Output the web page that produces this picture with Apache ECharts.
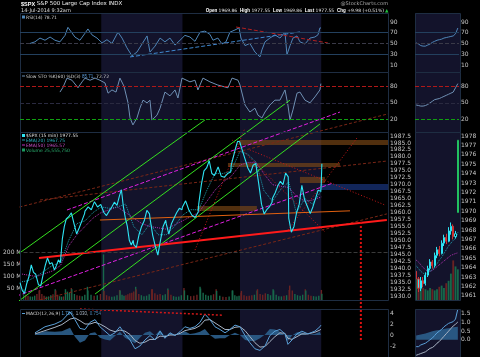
<!DOCTYPE html>
<html><head><meta charset="utf-8">
<script src="https://cdn.jsdelivr.net/npm/echarts@6.0.0/dist/echarts.min.js"></script>
<style>html,body{margin:0;padding:0;background:#000;overflow:hidden}#c{width:480px;height:357px}</style>
</head><body><div id="c"></div>
<script>
// ================= DATA =================
const dateTickLabels = ['17','18','19','20','23','24','25','26','27','30','Jul','2','3','7','8','9','10','11','14','15','16','17','18'];
const dateTickPos    = [1,2,3,4,5,6,7,8,9,10,11,12,13,13.54,14.54,15.54,16.54,17.54,18.54,19.54,20.54,21.54,22.54];
const weekShade = [[5,10],[13.54,18.54]];
// trading sessions (x in trading days from Jun 16)
const sessionStart = [0,1,2,3,4,5,6,7,8,9,10,11,12,13,13.54,14.54,15.54,16.54,17.54,18.54];
const sessionLen   = [1,1,1,1,1,1,1,1,1,1,1,1,1,0.54,1,1,1,1,1,0.04];
const sessionPrices = [
 [1934.8,1932.0,1930.9,1934.5,1937.0,1941.2,1938.5,1937.8],
 [1937.2,1934.0,1933.6,1937.5,1941.0,1943.7,1941.5,1942.0],
 [1941.5,1939.3,1941.0,1943.0,1942.0,1950.5,1955.0,1957.7,1957.0],
 [1958.5,1959.9,1956.0,1952.3,1954.5,1957.0,1959.5],
 [1960.5,1962.0,1961.0,1963.9,1962.0,1962.9],
 [1962.5,1960.0,1958.9,1960.5,1962.0,1963.7,1962.6],
 [1963.0,1966.0,1968.2,1962.0,1958.0,1955.0,1950.0,1948.3,1950.0],
 [1948.5,1947.5,1952.0,1955.0,1957.0,1960.8,1959.5],
 [1958.0,1952.0,1948.0,1944.7,1950.0,1955.0,1957.2],
 [1956.0,1952.2,1956.0,1958.0,1960.0,1961.5,1961.0],
 [1962.0,1964.2,1961.0,1959.0,1958.2,1960.2],
 [1963.0,1970.0,1975.0,1976.0,1978.6,1974.0,1973.3],
 [1974.0,1976.4,1973.0,1972.7,1974.0,1974.6],
 [1977.0,1980.0,1983.0,1985.6,1985.4],
 [1984.8,1982.0,1979.0,1976.0,1974.2,1977.0,1977.6],
 [1976.5,1970.0,1963.0,1959.5,1961.0,1962.0,1963.7],
 [1965.1,1967.0,1969.5,1971.2,1970.0,1974.2,1972.8],
 [1958.0,1952.9,1955.0,1960.0,1963.0,1969.8,1964.7],
 [1965.0,1962.0,1959.6,1962.0,1965.0,1968.0,1967.6],
 [1969.86,1977.55]
];
const sessionVolumes = [
 [45,22,18,15,14,18,25,40],
 [42,25,18,14,15,20,24,45],
 [40,22,16,14,15,45,35,30,50],
 [45,25,20,18,16,22,55],
 [40,22,18,20,25,190],
 [38,20,16,14,15,20,42],
 [40,22,18,20,24,28,30,35,55],
 [45,25,20,16,18,24,45],
 [45,28,22,25,20,24,48],
 [42,22,16,14,15,20,50],
 [40,20,16,18,22,55],
 [48,30,22,18,20,24,45],
 [38,18,14,12,15,40],
 [40,20,16,18,30],
 [38,20,16,18,20,22,40],
 [45,25,22,28,25,20,45],
 [40,22,16,15,18,20,42],
 [60,40,25,20,18,22,45],
 [40,22,18,16,15,18,42],
 [25.56]
];
const emaTimes = [0,0.5,1,1.5,2,2.5,3,3.5,4,4.5,5,5.5,6,6.5,7,7.5,8,8.5,9,9.5,10,10.5,11,11.5,12,12.5,13,13.54,14,14.54,15,15.54,16,16.54,17,17.54,18,18.54];
const ema20 = [1935,1935.5,1937,1939,1941,1942,1950,1956,1957,1960,1962,1961.5,1962,1963,1955,1952,1956,1952,1952,1955,1959,1961,1961,1968,1974,1974,1975,1982,1981,1978,1968,1964,1968,1971,1960,1965,1963,1967.75];
const ema50 = [1938,1937.5,1937,1938,1939,1941,1948,1952,1955,1958,1960,1961,1962,1960,1958,1956,1955,1954.5,1954,1955.5,1957,1958.5,1960,1964,1968,1971,1973,1977,1978,1978,1974,1970,1969.5,1969,1966,1964,1964.5,1965.57];
const rsiTimes = [0.62,0.92,1.23,1.54,1.85,2.15,2.46,2.77,2.95,3.38,3.69,4.0,4.18,4.43,4.74,5.05,5.35,5.66,6.03,6.28,6.58,6.89,7.2,7.51,7.82,8.0,8.31,8.62,8.92,9.23,9.54,9.85,10.15,10.46,10.77,11.08,11.38,11.69,11.88,12.18,12.43,12.68,12.92,13.23,13.48,13.6,13.85,14.15,14.46,14.77,14.89,15.08,15.38,15.69,16.0,16.31,16.43,16.62,16.8,17.05,17.23,17.54,17.85,18.15,18.34,18.46,18.52];
const rsiValues = [50,53,60,56,62,56,53,65,80,62,56,69,77,66,60,51,57,50,71,60,42,27,34,49,64,34,45,60,53,60,47,56,65,62,54,71,73,67,56,60,49,53,71,75,79,60,46,50,34,25,38,53,60,66,60,71,29,46,60,64,53,49,60,62,66,79,78.71];
const stoTimes = [2.46,2.65,2.89,3.2,3.57,3.82,4.0,4.31,4.62,4.92,5.23,5.42,5.66,5.91,6.15,6.4,6.65,6.77,6.95,7.2,7.38,7.57,7.82,8.0,8.12,8.43,8.62,8.92,9.23,9.54,9.72,9.97,10.46,10.77,10.95,11.26,11.69,12.18,12.8,13.05,13.42,13.54,13.85,14.15,14.46,14.65,14.89,15.08,15.38,15.69,16.0,16.31,16.49,16.62,16.8,17.05,17.23,17.54,17.85,18.15,18.46,18.52];
const stoValues = [70,79,96,92,78,89,96,92,96,92,87,68,74,70,96,81,50,22,9,22,40,55,50,55,18,27,40,70,63,74,59,96,89,92,74,96,89,83,78,96,92,83,46,33,40,27,22,33,46,55,55,74,46,18,37,68,70,55,50,61,74,85.71];
const macdTimes = [0.92,1.54,2.15,2.58,3.08,3.38,3.69,4.0,4.31,4.62,4.92,5.23,5.54,5.85,6.15,6.46,6.77,7.08,7.38,7.69,8.0,8.31,8.62,8.92,9.23,9.54,9.85,10.15,10.46,10.77,11.08,11.38,11.69,12.0,12.31,12.62,12.92,13.23,13.54,13.85,14.15,14.46,14.77,15.08,15.38,15.69,16.0,16.31,16.49,16.74,17.05,17.35,17.72,18.15,18.46,18.52];
const macdLine = [0.4,1.5,2.0,2.6,4.2,2.8,1.2,1.0,2.3,2.8,1.5,0.7,-0.1,0.4,1.5,0.2,-0.9,-2.5,-2.0,-0.9,-0.1,-0.9,0.7,-0.6,0.4,-0.1,0.6,1.5,1.2,1.5,2.3,3.8,2.8,1.5,1.0,0.4,1.0,1.8,1.5,-0.1,-1.4,-2.5,-2.8,-2.0,-0.1,0.7,1.0,0.2,-1.7,-0.9,0.2,0.7,0.2,0.7,1.5,1.784];
const macdSignal = [0.2,0.8,1.4,1.9,2.9,3.1,2.6,2.0,2.0,2.3,2.0,1.5,0.9,0.6,0.9,0.7,0.1,-1.0,-1.5,-1.3,-0.8,-0.8,-0.2,-0.3,0.0,0.0,0.3,0.8,1.0,1.2,1.7,2.7,2.8,2.2,1.6,1.0,1.0,1.4,1.5,0.8,-0.3,-1.4,-2.2,-2.1,-1.2,-0.3,0.4,0.3,-0.6,-0.8,-0.3,0.2,0.2,0.5,0.9,1.03];
const macdHist = [0.2,0.7,0.6,0.7,1.3,-0.3,-1.4,-1.0,0.3,0.5,-0.5,-0.8,-1.0,-0.2,0.6,-0.5,-1.0,-1.5,-0.5,0.4,0.7,-0.1,0.9,-0.3,0.4,-0.1,0.3,0.7,0.2,0.3,0.6,1.1,0.0,-0.7,-0.6,-0.6,0.0,0.4,0.0,-0.9,-1.1,-1.1,-0.6,0.1,1.1,1.0,0.6,-0.1,-1.1,-0.1,0.5,0.5,0.0,0.2,0.6,0.754];
// annotation trend lines in [day, price]
const greenLines = [[[-1.23,1940.4],[11.38,1993.25]],[[-1.23,1923.2],[16.62,2000.4]],[[4.62,1930.7],[18.46,1991.8]]];
const magentaLines = [[[-1.23,1927.85],[19.26,1970.6]],[[2.89,1960.9],[19.69,1996.1]]];
const redSolidLine = [[1.17,1943.66],[22.58,1957.3]];
const brownLines = [[[-1.23,1960.2],[22.89,1995.8]],[[1.23,1964.5],[22.58,1978.5]],[[1.23,1928.6],[22.58,1959.5]]];
const redDotLines = [[[10.77,1946.5],[13.85,1990.4]],[[13.05,1986.1],[18.77,1953.0]],[[16.49,1953.7],[20.74,1986.8]],[[14.15,1982.5],[22.46,1962.7]],[[-1.23,1945.8],[0.0,1942.2]],[[-1.23,1928.6],[-0.31,1921.4]]];
const orangeLine = [[4.92,1957.3],[20.31,1960.6]];
const redVertical = [[20.98,1956.6],[20.98,1913.5]];
const orangeBands = [[13.48,22.89,1984.3,1986.1],[12.8,19.69,1976.4,1977.8],[17.23,18.77,1970.6,1972.8],[10.89,14.58,1960.5,1962.3]];
const blueBands = [[18.46,22.65,1968.1,1970.25]];
const patternText = [[5.29,1972.4,'LS'],[18.71,1981.4,'RS?']];
const priceNotes = [[-0.43,1929.3,'1930.84'],[-0.43,1942.9,'1941.85'],[0.92,1932.2,'1933.85'],[2.03,1947.3,'1948.18'],[2.15,1937.9,'1939.29'],[3.51,1950.8,'1952.26'],[2.95,1962.0,'1959.87'],[6.15,1970.6,'1968.17'],[7.88,1962.7,'1960.83'],[6.95,1945.8,'1947.49'],[7.88,1943.7,'1944.69'],[9.11,1959.8,'1957.71'],[10.28,1966.3,'1964.24'],[10.95,1956.6,'1958.22'],[11.51,1980.7,'1978.58'],[12.8,1971.0,'1972.88'],[13.48,1987.5,'1985.59'],[16.31,1976.0,'1974.15'],[15.51,1972.8,'1971.15'],[14.95,1958.0,'1959.46'],[17.23,1972.05,'1969.84'],[17.42,1958.0,'1959.63'],[16.49,1951.2,'1952.86']];
const rsiBlueLine = [[6.77,24.9],[17.23,71.4]];
const rsiRedLine = [[13.3,80.6],[18.95,50.9]];
const macdRedLine = [[3.69,4.72],[12.49,3.6]];
// mini (intraday zoom) panel
const miniLabels = ['11:30','11:45','12:00','12:15','12:30','12:45','13:00','13:15','13:30','13:45','14:00','14:15','14:30','14:45','15:00','15:15','15:30','15:45','9:30'];
const miniTickIndex = [2,6,10,14,18];
const miniTickText = ['12','1','2','3','14Jul'];
const miniCandles = [[1963.6,1962.8,1962.4,1964.2],[1962.8,1961.8,1961.4,1963.0],[1961.8,1962.6,1961.5,1963.0],[1962.6,1962.3,1961.9,1963.0],[1962.3,1963.2,1962.1,1963.5],[1963.2,1963.9,1963.0,1964.2],[1963.9,1964.6,1963.7,1964.9],[1964.6,1964.2,1963.9,1964.8],[1964.2,1965.3,1964.0,1965.6],[1965.3,1965.9,1965.0,1966.2],[1965.9,1965.5,1965.2,1966.3],[1965.5,1966.6,1965.4,1966.9],[1966.6,1967.2,1966.3,1967.5],[1967.2,1966.8,1966.5,1967.6],[1966.8,1967.9,1966.7,1968.3],[1967.9,1968.4,1967.5,1968.8],[1968.4,1967.3,1967.0,1968.6],[1967.3,1967.6,1967.1,1967.9],[1969.86,1977.55,1969.86,1977.55]];
const miniEma20 = [1964.2,1963.9,1963.6,1963.4,1963.3,1963.4,1963.6,1963.8,1964.1,1964.4,1964.8,1965.1,1965.5,1965.9,1966.3,1966.6,1966.9,1967.1,1967.75];
const miniEma50 = [1964.8,1964.6,1964.3,1964.0,1963.8,1963.6,1963.6,1963.7,1963.9,1964.1,1964.3,1964.5,1964.7,1964.9,1965.1,1965.3,1965.4,1965.5,1965.57];
const miniVolume = [18,14,12,10,9,8,10,9,8,9,11,12,10,14,16,22,33,28,25.56];
const miniRsi = [51,49,46,45,45,47,49,52,54,56,57,58,60,61,62,63,64,68,78.71];
const miniSto = [46,45,44,44,45,47,50,53,56,57,58,60,62,64,66,68,70,78,85.71];
const miniMacd = [-0.4,-0.4,-0.3,-0.25,-0.2,-0.1,0.0,0.1,0.25,0.4,0.5,0.6,0.75,0.85,0.95,1.0,1.05,1.2,1.784];
const miniSignal = [-0.9,-0.85,-0.8,-0.75,-0.7,-0.6,-0.5,-0.45,-0.35,-0.2,-0.1,0.05,0.2,0.35,0.5,0.65,0.8,0.9,1.03];
const miniHist = [0.25,0.28,0.3,0.33,0.36,0.4,0.45,0.5,0.52,0.55,0.57,0.6,0.62,0.65,0.67,0.7,0.72,0.74,0.754];

// ================= CHART =================
const FONT = 'DejaVu Sans';
const LBL = '#c8c8c8';
const chart = echarts.init(document.getElementById('c'), null, {renderer:'canvas', width:480, height:357});

const priceData = [], volData = [];
sessionPrices.forEach((arr, d) => {
  const n = arr.length;
  arr.forEach((p, i) => {
    const t = sessionStart[d] + sessionLen[d] * (n > 1 ? i / (n - 1) : 0) * 0.97;
    priceData.push([t, p]);
    const v = sessionVolumes[d][i];
    if (v != null) {
      const up = i === 0 ? (d === 0 || p >= sessionPrices[d-1][sessionPrices[d-1].length-1]) : p >= arr[i-1];
      volData.push({value:[t, v], itemStyle:{color: up ? '#17684a' : '#6a2222'}});
    }
  });
});
const zip = (a, b) => a.map((t, i) => [t, b[i]]);

const MX = 22.65;
const grids = [
  {left:20, top:13, width:368, height:287},     //0 bg top
  {left:20, top:309, width:368, height:48},     //1 bg bottom
  {left:20, top:11.2, width:368, height:64.5},  //2 rsi
  {left:20, top:70.55, width:368, height:64.6}, //3 sto
  {left:20, top:129.04, width:368, height:173.9}, //4 price
  {left:20, top:132, width:368, height:168},    //5 vol
  {left:20, top:300, width:368, height:9},      //6 dates
  {left:20, top:302, width:368, height:62.5},   //7 macd
  {left:415, top:11.2, width:44, height:64.5},  //8 mini rsi
  {left:415, top:70.55, width:44, height:64.6}, //9 mini sto
  {left:415, top:126.6, width:44, height:188},  //10 mini price
  {left:415, top:132, width:44, height:168},    //11 mini vol
  {left:415, top:300, width:44, height:9},      //12 mini dates
  {left:415, top:288, width:44, height:80}      //13 mini macd
];
const xAxes = grids.map((g, i) => i < 8
  ? {type:'value', gridIndex:i, min:0, max:MX, show:false}
  : {type:'category', gridIndex:i, data:miniLabels, boundaryGap:true, show:false});
function yAx(gi, min, max, interval, fmt, pos) {
  return {type:'value', gridIndex:gi, min, max, interval, position: pos || 'right',
    axisLine:{show:false}, axisTick:{show:false}, splitLine:{show:false},
    axisLabel:{show: !!fmt, color:LBL, fontSize:6, fontFamily:FONT, margin:2, formatter: fmt || ''}};
}
const pick = (list, dec) => v => { const r = Math.round(v*100)/100; return list.some(x => Math.abs(x - r) < 1e-6) ? r.toFixed(dec) : ''; };
const yAxes = [
  yAx(0,0,1,1,null), yAx(1,0,1,1,null),
  yAx(2,-10,110,10,pick([10,30,50,70,90],0)),
  yAx(3,-10,110,10,pick([20,50,80],0)),
  yAx(4,1927.5,1990,2.5, v => (v > 1929.9 && v < 1987.6) ? v.toFixed(1) : ''),
  yAx(5,0,700,50, v => (v > 0 && v <= 200) ? v + ' M' : '', 'left'),
  yAx(6,0,1,1,null),
  yAx(7,-4,6,2,pick([-2,0,2,4],0)),
  yAx(8,-10,110,10,pick([10,30,50,70,90],0)),
  yAx(9,-10,110,10,pick([20,50,80],0)),
  yAx(10,1959,1979,1, v => (v >= 1961 && v <= 1978) ? String(Math.round(v)) : ''),
  yAx(11,0,140,20,null),
  yAx(12,0,1,1,null),
  yAx(13,-1,3,0.5, v => (v >= 0 && v <= 1.5) ? v.toFixed(1) : '')
];

const series = [];
const SH = '#13132b';
// weekly shading
[0,1].forEach(gi => series.push({type:'line', xAxisIndex:gi, yAxisIndex:gi, z:0, data:[[0,0]], symbol:'none', lineStyle:{opacity:0}, silent:true,
  markArea:{silent:true, itemStyle:{color:SH}, data: weekShade.map(w => [{xAxis:w[0]},{xAxis:w[1]}])}}));

function seg(gi, pts, color, width, type, z) {
  series.push({type:'line', xAxisIndex:gi, yAxisIndex:gi, data:pts, symbol:'none', clip:false, silent:true, z: z || 4,
    lineStyle:{color, width, type: type || 'solid'}});
}
// RSI
series.push({type:'line', xAxisIndex:2, yAxisIndex:2, data:zip(rsiTimes, rsiValues), symbol:'none', lineStyle:{color:'#4f86b8', width:1}, z:3,
  markLine:{silent:true, symbol:'none', label:{show:false}, data:[
    {yAxis:70, lineStyle:{color:'#23405e', type:'solid', width:1}},
    {yAxis:30, lineStyle:{color:'#23405e', type:'solid', width:1}},
    {yAxis:50, lineStyle:{color:'#3a3a48', type:'dashed', width:1}}]}});
seg(2, rsiBlueLine, '#3f88d0', 1, 'dashed');
seg(2, rsiRedLine, '#b02020', 1, 'dashed');
// STO
series.push({type:'line', xAxisIndex:3, yAxisIndex:3, data:zip(stoTimes, stoValues), symbol:'none', lineStyle:{color:'#6f90b4', width:1}, z:3,
  markLine:{silent:true, symbol:'none', label:{show:false}, data:[
    {yAxis:80, lineStyle:{color:'#b01818', type:'dashed', width:1}},
    {yAxis:20, lineStyle:{color:'#10a010', type:'dashed', width:1}},
    {yAxis:50, lineStyle:{color:'#2a2a40', type:'dashed', width:1}}]}});
// Volume
series.push({type:'bar', xAxisIndex:5, yAxisIndex:5, data:volData, barWidth:1.4, z:2,
  markLine:{silent:true, symbol:'none', label:{show:false}, data:[{yAxis:200, lineStyle:{color:'#3a3a3a', type:'dashed', width:1}}]}});
// bands
series.push({type:'line', xAxisIndex:4, yAxisIndex:4, data:[], symbol:'none', z:2, silent:true,
  markArea:{silent:true, data: orangeBands.map(b => [{xAxis:b[0], yAxis:b[2], itemStyle:{color:'rgba(125,72,22,0.65)'}},{xAxis:b[1], yAxis:b[3]}])
    .concat(blueBands.map(b => [{xAxis:b[0], yAxis:b[2], itemStyle:{color:'rgba(20,42,100,0.9)'}},{xAxis:b[1], yAxis:b[3]}]))}});
// EMAs
seg(4, zip(emaTimes, ema50), '#b030b0', 1, 'dotted', 3);
seg(4, zip(emaTimes, ema20), '#1e9fb0', 1, 'dotted', 3);
// trend lines
brownLines.forEach(l => seg(4, l, '#7a2616', 1, [3,2]));
magentaLines.forEach(l => seg(4, l, '#e020e0', 1, [4,2]));
greenLines.forEach(l => seg(4, l, '#35e020', 1));
redDotLines.forEach(l => seg(4, l, '#c81818', 1, [1,2]));
seg(4, orangeLine, '#e06010', 1);
seg(4, redSolidLine, '#ff1a1a', 2);
seg(4, redVertical, '#e01010', 2, [2,2]);
// price
series.push({type:'line', xAxisIndex:4, yAxisIndex:4, data:priceData, symbol:'none', lineStyle:{color:'#2ee4f4', width:1.1}, z:6});
// price notes
series.push({type:'scatter', xAxisIndex:4, yAxisIndex:4, data:priceNotes, symbolSize:0.1, clip:false, z:7, itemStyle:{opacity:0},
  label:{show:true, position:'inside', formatter:p => p.data[2], color:'#e6e6e6', fontSize:5, fontFamily:FONT, backgroundColor:'#3d444f', padding:[1,1,0,1]}});
series.push({type:'scatter', xAxisIndex:4, yAxisIndex:4, data:patternText, symbolSize:0.1, clip:false, z:7, itemStyle:{opacity:0},
  label:{show:true, position:'inside', formatter:p => p.data[2], color:'#e02020', fontSize:7, fontWeight:'bold', fontFamily:FONT}});
// dates
series.push({type:'scatter', xAxisIndex:6, yAxisIndex:6, data:dateTickPos.map((t,i) => [t, 0.5, dateTickLabels[i]]), symbolSize:0.1, clip:false, itemStyle:{opacity:0},
  label:{show:true, position:'inside', formatter:p => p.data[2], color:'#e0e0e0', fontSize:6, fontFamily:FONT}});
// MACD
series.push({type:'line', xAxisIndex:7, yAxisIndex:7, data:zip(macdTimes, macdHist), symbol:'none', lineStyle:{width:0}, areaStyle:{color:'#2c5f8c', opacity:0.9}, z:2});
series.push({type:'line', xAxisIndex:7, yAxisIndex:7, data:zip(macdTimes, macdSignal), symbol:'none', lineStyle:{color:'#a8b4c4', width:1}, z:3});
series.push({type:'line', xAxisIndex:7, yAxisIndex:7, data:zip(macdTimes, macdLine), symbol:'none', lineStyle:{color:'#5aa0d8', width:1}, z:3});
seg(7, macdRedLine, '#d01818', 1.5, [2,2]);

// ---- mini panel ----
series.push({type:'line', xAxisIndex:8, yAxisIndex:8, data:miniRsi, symbol:'none', lineStyle:{color:'#4f86b8', width:1}, z:3,
  markLine:{silent:true, symbol:'none', label:{show:false}, data:[
    {yAxis:70, lineStyle:{color:'#23405e', type:'solid', width:1}},
    {yAxis:30, lineStyle:{color:'#23405e', type:'solid', width:1}},
    {yAxis:50, lineStyle:{color:'#3a3a48', type:'dashed', width:1}}]}});
series.push({type:'line', xAxisIndex:9, yAxisIndex:9, data:miniSto, symbol:'none', lineStyle:{color:'#6f90b4', width:1}, z:3,
  markLine:{silent:true, symbol:'none', label:{show:false}, data:[
    {yAxis:80, lineStyle:{color:'#b01818', type:'dashed', width:1}},
    {yAxis:20, lineStyle:{color:'#10a010', type:'dashed', width:1}},
    {yAxis:50, lineStyle:{color:'#2a2a40', type:'dashed', width:1}}]}});
series.push({type:'bar', xAxisIndex:11, yAxisIndex:11, barWidth:'80%', z:2,
  data: miniVolume.map((v,i) => ({value:v, itemStyle:{color: (i===0 || miniCandles[i][1] >= miniCandles[i-1][1]) ? '#17684a' : '#6a2222'}}))});
series.push({type:'line', xAxisIndex:10, yAxisIndex:10, data:miniEma50, symbol:'none', lineStyle:{color:'#b030b0', width:1, type:'dotted'}, z:3});
series.push({type:'line', xAxisIndex:10, yAxisIndex:10, data:miniEma20, symbol:'none', lineStyle:{color:'#1e9fb0', width:1, type:'dotted'}, z:3});
series.push({type:'candlestick', xAxisIndex:10, yAxisIndex:10, barWidth:'70%', z:4,
  itemStyle:{color:'#000', color0:'#2ee4f4', borderColor:'#2ee4f4', borderColor0:'#d03030', borderWidth:1},
  data: miniCandles.map((c,i) => i === miniCandles.length-1 ? {value:c, itemStyle:{color:'#000', borderColor:'#22c060'}} : c)});
series.push({type:'scatter', xAxisIndex:12, yAxisIndex:12, data:miniTickIndex.map((k,i) => [k, 0.5, miniTickText[i]]), symbolSize:0.1, clip:false, itemStyle:{opacity:0},
  label:{show:true, position:'inside', formatter:p => p.data[2], color:'#e0e0e0', fontSize:6, fontFamily:FONT}});
series.push({type:'line', xAxisIndex:13, yAxisIndex:13, data:miniHist, symbol:'none', lineStyle:{width:0}, areaStyle:{color:'#2c5f8c', opacity:0.9}, z:2});
series.push({type:'line', xAxisIndex:13, yAxisIndex:13, data:miniSignal, symbol:'none', lineStyle:{color:'#a8b4c4', width:1}, z:3});
series.push({type:'line', xAxisIndex:13, yAxisIndex:13, data:miniMacd, symbol:'none', lineStyle:{color:'#5aa0d8', width:1}, z:3});

// current-value boxes on mini axes
function box(gi, value, text, bg, fg) {
  series.push({type:'scatter', xAxisIndex:gi, yAxisIndex:gi, data:[[18, value]], symbolSize:0.1, clip:false, itemStyle:{opacity:0}, z:9,
    label:{show:true, position:'right', distance:3, formatter:text, color:fg || '#fff', fontSize:5.5, fontFamily:FONT, backgroundColor:bg, padding:[1,1,0,1]}});
}
box(8, 78.71, '78.71', '#3d6d99');
box(9, 85.71, '85.71', '#3d6d99');
box(9, 72.72, '72.72', '#6a7a8a');
box(10, 1977.55, '1977.55', '#1d5a5a');
box(10, 1967.75, '1967.75', '#156070');
box(10, 1965.57, '1965.57', '#7a207a');
box(11, 25.56, '25555675', '#1b5a40');
box(13, 1.784, '1.784', '#2f6a9a');
box(13, 1.03, '1.030', '#5a6470');
box(13, 0.754, '0.754', '#2c4f70');

// ---- decoration ----
const FR = '#1e2d42';
const frame = (x, y, w, h) => ({type:'rect', z:5, silent:true, shape:{x:x+0.5, y:y+0.5, width:w, height:h}, style:{fill:null, stroke:FR, lineWidth:1}});
const txt = (x, y, text, fill, size, weight, align) => ({type:'text', z:20, silent:true, x, y,
  style:{text, fill, fontSize:size, fontFamily:FONT, fontWeight:weight || 'normal', align: align || 'left', verticalAlign:'top'}});
const graphic = [
  {type:'rect', z:-1, silent:true, shape:{x:415, y:13, width:45, height:287}, style:{fill:SH}},
  {type:'rect', z:-1, silent:true, shape:{x:415, y:309, width:45, height:48}, style:{fill:SH}},
  frame(20,13,368,59), frame(20,72,368,60), frame(20,132,368,168), frame(20,309,368,50),
  frame(415,13,45,59), frame(415,72,45,60), frame(415,132,45,168), frame(415,309,45,50),
  {type:'text', z:20, silent:true, x:21, y:1, style:{text:'{b|$SPX} S&P 500 Large Cap Index INDX', fill:'#f0f0f0', fontSize:5.5, fontFamily:FONT, verticalAlign:'top', rich:{b:{fontWeight:'bold', fontSize:5.5, fill:'#fff'}}}},
  txt(21, 8, '14-Jul-2014 9:32am', '#dcdcdc', 5),
  {type:'text', z:20, silent:true, x:384, y:8.5, style:{text:'{b|Open} 1969.86  {b|High} 1977.55  {b|Low} 1969.86  {b|Last} 1977.55  {b|Chg} +9.98 (+0.51%)', fill:'#e8e8e8', fontSize:4.5, fontFamily:FONT, align:'right', verticalAlign:'top', rich:{b:{fontWeight:'bold', fontSize:4.5, fill:'#fff'}}}},
  txt(385, 8.5, '▲', '#22c040', 4.5),
  txt(388, 1, '@StockCharts.com', '#a8a8a8', 5, 'normal', 'right'),
  {type:'rect', z:20, silent:true, shape:{x:22, y:15.5, width:3, height:3}, style:{fill:'#4f86b8'}},
  txt(26, 15, 'RSI(14) 78.71', '#d0d0d0', 4.5),
  {type:'rect', z:20, silent:true, shape:{x:22, y:75.5, width:3, height:1}, style:{fill:'#6f90b4'}},
  {type:'text', z:20, silent:true, x:26, y:74, style:{text:'Slow STO %K(60) %D(3) {c|85.71}, 72.72', fill:'#d0d0d0', fontSize:4.5, fontFamily:FONT, verticalAlign:'top', rich:{c:{fill:'#5a9ad8', fontSize:4.5}}}},
  {type:'rect', z:20, silent:true, shape:{x:22, y:134, width:3, height:3}, style:{fill:'#2ee4f4'}},
  txt(26, 133.5, '$SPX (15 min) 1977.55', '#e0e0e0', 4.5),
  {type:'rect', z:20, silent:true, shape:{x:22, y:139.5, width:3, height:1}, style:{fill:'#1e9fb0'}},
  txt(26, 138.3, 'EMA(20) 1967.75', '#2ab8c8', 4.5),
  {type:'rect', z:20, silent:true, shape:{x:22, y:144.5, width:3, height:1}, style:{fill:'#c030c0'}},
  txt(26, 143.1, 'EMA(50) 1965.57', '#c850c8', 4.5),
  {type:'rect', z:20, silent:true, shape:{x:22, y:148.5, width:3, height:3}, style:{fill:'#1b9a60'}},
  txt(26, 147.9, 'Volume 25,555,750', '#2ab070', 4.5),
  {type:'rect', z:20, silent:true, shape:{x:22, y:313, width:3, height:1}, style:{fill:'#5aa0d8'}},
  {type:'text', z:20, silent:true, x:26, y:311.5, style:{text:'MACD(12,26,9) {a|1.784}, {b|1.030}, {c|0.754}', fill:'#d0d0d0', fontSize:4.5, fontFamily:FONT, verticalAlign:'top', rich:{a:{fill:'#5aa0d8', fontSize:4.5}, b:{fill:'#a8b4c4', fontSize:4.5}, c:{fill:'#4a80b0', fontSize:4.5}}}}
];

chart.setOption({backgroundColor:'#000', animation:false, grid:grids, xAxis:xAxes, yAxis:yAxes, series, graphic});
</script></body></html>
